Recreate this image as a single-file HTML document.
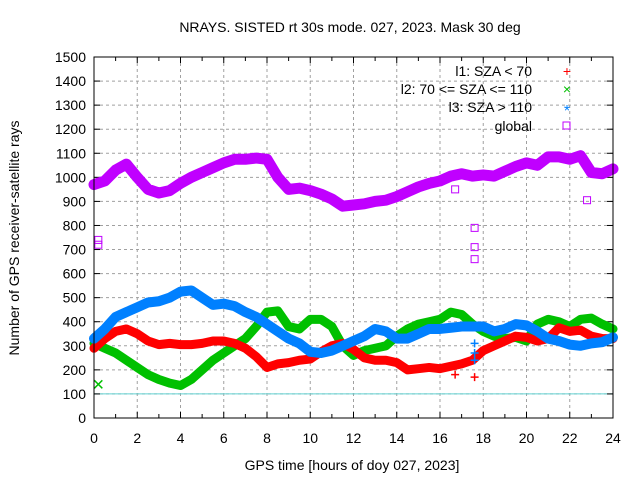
<!DOCTYPE html>
<html><head><meta charset="utf-8"><style>body{margin:0;background:#fff}svg{display:block;font-family:"Liberation Sans",sans-serif}</style></head>
<body>
<svg id="c" width="640" height="480" xmlns="http://www.w3.org/2000/svg">
<rect width="640" height="480" fill="#fff"/>
<text x="350" y="32" font-size="14" text-anchor="middle">NRAYS. SISTED rt 30s mode. 027, 2023. Mask 30 deg</text>
<text x="352" y="470" font-size="14" text-anchor="middle">GPS time [hours of doy 027, 2023]</text>
<text x="19" y="238" font-size="14" text-anchor="middle" transform="rotate(-90 19 238)">Number of GPS receiver-satellite rays</text>
<g id="grid"></g><g id="ticks"></g><g id="series"></g>
<rect x="94" y="57" width="519" height="361" fill="none" stroke="#000" stroke-width="1"/>
<g font-size="14">
<text x="532" y="76" text-anchor="end">l1: SZA &lt; 70</text>
<text x="567" y="76" fill="#f00" text-anchor="middle">+</text>
<text x="532" y="94" text-anchor="end">l2: 70 &lt;= SZA &lt;= 110</text>
<text x="567" y="94" fill="#00c000" text-anchor="middle">×</text>
<text x="532" y="112" text-anchor="end">l3: SZA &gt; 110</text>
<text x="567" y="116" fill="#0080ff" text-anchor="middle" font-size="16">*</text>
<text x="532" y="131" text-anchor="end">global</text>
<rect x="563" y="122" width="7" height="7" fill="none" stroke="#c000ff"/>
</g>
</svg>
<script>
const hours=[0,0.5,1,1.5,2,2.5,3,3.5,4,4.5,5,5.5,6,6.5,7,7.5,8,8.5,9,9.5,10,10.5,11,11.5,12,12.5,13,13.5,14,14.5,15,15.5,16,16.5,17,17.5,18,18.5,19,19.5,20,20.5,21,21.5,22,22.5,23,23.5,24];
const globalVals=[970,985,1030,1055,1000,950,935,945,975,1000,1020,1040,1060,1075,1075,1080,1075,1000,950,955,945,930,910,880,885,890,900,905,920,940,960,975,985,1005,1015,1005,1010,1005,1025,1045,1060,1050,1085,1085,1075,1090,1020,1015,1035];
const l3Vals=[330,370,420,440,460,480,485,500,525,530,500,470,475,465,440,420,390,360,330,310,275,270,280,300,320,340,370,360,330,330,350,370,370,375,380,380,380,360,370,390,385,360,330,320,305,300,310,315,335];
const l1Vals=[290,330,360,370,350,320,305,310,305,305,310,320,320,310,290,255,210,225,230,240,245,275,300,310,285,250,240,240,230,200,205,210,205,215,225,240,280,300,320,340,335,320,330,375,360,365,340,330,330];
const l2Vals=[310,290,270,240,210,180,160,145,135,160,200,240,270,300,330,380,440,445,380,370,410,410,380,300,260,280,290,300,340,370,390,400,410,440,430,390,360,340,330,335,320,390,410,400,380,410,415,390,370];
const globalOutH=[0.2,0.2,16.7,17.6,17.6,17.6,22.8];
const globalOutV=[740,720,950,790,710,660,905];
const l2OutH=[0.2]; const l2OutV=[140];
const l1OutH=[16.7,17.6]; const l1OutV=[180,170];
const l3OutH=[17.6,17.6,17.6]; const l3OutV=[310,270,240];
const yTicks=[0,100,200,300,400,500,600,700,800,900,1000,1100,1200,1300,1400,1500];
const xTicks=[0,2,4,6,8,10,12,14,16,18,20,22,24];
const NS="http://www.w3.org/2000/svg";
const X=h=>94+h*(519/24), Y=v=>418-v*(361/1500);
function mk(t,a,p){const e=document.createElementNS(NS,t);for(const k in a)e.setAttribute(k,a[k]);p.appendChild(e);return e;}
const grid=document.getElementById('grid'),ticks=document.getElementById('ticks'),ser=document.getElementById('series');
yTicks.forEach(v=>{const y=Y(v);
 if(v>0&&v<1500){const g=mk('line',{x1:94,x2:613,y1:y,y2:y,stroke:'#a0a0a0','stroke-dasharray':'3,3'},grid);}
 mk('line',{x1:94,x2:100,y1:y,y2:y,stroke:'#000'},ticks);mk('line',{x1:607,x2:613,y1:y,y2:y,stroke:'#000'},ticks);
 const t=mk('text',{x:86,y:y+5,'font-size':14,'text-anchor':'end'},ticks);t.textContent=v;
 });
xTicks.forEach(h=>{const x=X(h);
 if(h>0&&h<24){const g=mk('line',{x1:x,x2:x,y1:57,y2:418,stroke:'#a0a0a0','stroke-dasharray':'3,3'},grid);}
 mk('line',{x1:x,x2:x,y1:418,y2:412,stroke:'#000'},ticks);mk('line',{x1:x,x2:x,y1:57,y2:63,stroke:'#000'},ticks);
 const t=mk('text',{x:x,y:443,'font-size':14,'text-anchor':'middle'},ticks);t.textContent=h;
 });
for(let h=1;h<24;h+=2){const x=X(h);mk('line',{x1:x,x2:x,y1:418,y2:414,stroke:'#000'},ticks);mk('line',{x1:x,x2:x,y1:57,y2:61,stroke:'#000'},ticks);}
const ref=mk('line',{x1:94,x2:613,y1:Y(100),y2:Y(100),stroke:'#60d0d0'},grid);

function series(name,vals,col,w,oh,ov,shape){
 const g=mk('g',{},ser);
 mk('polyline',{points:hours.map((h,i)=>X(h)+','+Y(vals[i])).join(' '),fill:'none',stroke:col,'stroke-width':w,'stroke-linejoin':'round','stroke-linecap':'round'},g);
 oh.forEach((h,i)=>{const x=X(h),y=Y(ov[i]);
  if(shape==='sq')mk('rect',{x:x-3.5,y:y-3.5,width:7,height:7,fill:'none',stroke:col},g);
  else mk('path',{d:shape==='x'?`M${x-4},${y-4}L${x+4},${y+4}M${x-4},${y+4}L${x+4},${y-4}`:`M${x-4},${y}H${x+4}M${x},${y-4}V${y+4}`,stroke:col,'stroke-width':1.5},g);});
}
series('series-global',globalVals,'#c000ff',11,globalOutH,globalOutV,'sq');
series('series-l2',l2Vals,'#00c000',9,l2OutH,l2OutV,'x');
series('series-l1',l1Vals,'#ff0000',9,l1OutH,l1OutV,'+');
series('series-l3',l3Vals,'#0080ff',10,l3OutH,l3OutV,'+');
</script>
</body></html>
